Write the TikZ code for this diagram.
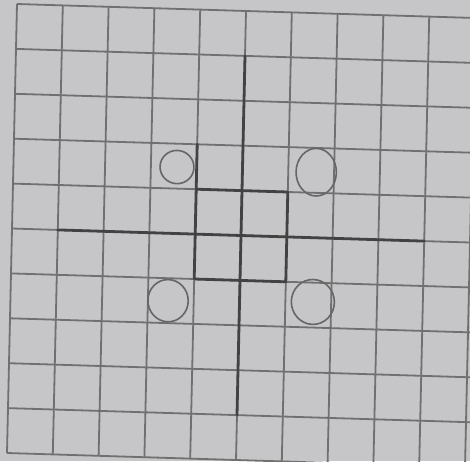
\documentclass[tikz,border=0pt]{standalone}
\begin{document}
\begin{tikzpicture}[
  gridline/.style={draw=black!56, line width=1.8pt},
  heavy/.style={draw=black!74, line width=2.8pt, line cap=round, line join=round},
  ring/.style={draw=black!60, line width=1.6pt}]
\definecolor{paper}{RGB}{198,197,200}
\fill[paper] (0pt,0pt) rectangle (470pt,-461pt);
\useasboundingbox (0pt,0pt) rectangle (470pt,-461pt);
\clip (0pt,0pt) rectangle (470pt,-461pt);
\begin{scope}[shift={(17pt,-4pt)}, x={(45.8pt,-1.4pt)}, y={(-1.0pt,-44.9pt)}]
  % graph paper grid
  \foreach \i in {0,...,10} \draw[gridline] (\i,0) -- (\i,10);
  \foreach \j in {0,...,10} \draw[gridline] (0,\j) -- (10.6,\j);
  % heavy axes
  \draw[heavy] (1,5) -- (9,5);
  \draw[heavy] (5,1) -- (5,9);
  % square outline
  \draw[heavy] (4,3) -- (4,6) -- (6,6) -- (6,4) -- (4,4);
  % circles
  \draw[ring] (3.57,3.52) circle[radius=0.37];
  \draw[ring] (6.61,3.54) ellipse[x radius=0.44, y radius=0.53];
  \draw[ring] (3.44,6.50) ellipse[x radius=0.44, y radius=0.47];
  \draw[ring] (6.60,6.43) ellipse[x radius=0.47, y radius=0.50];
\end{scope}
\end{tikzpicture}
\end{document}
